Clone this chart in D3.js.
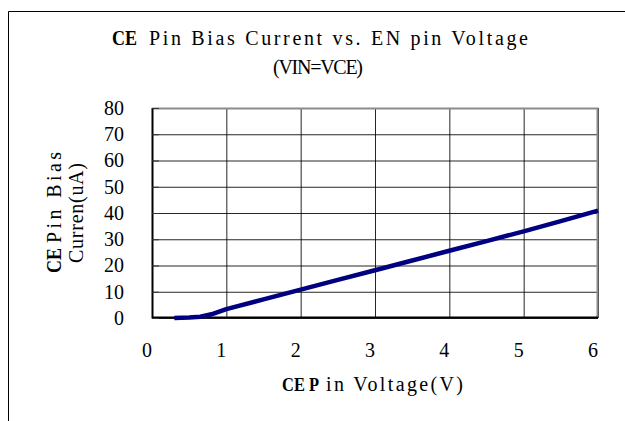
<!DOCTYPE html>
<html>
<head>
<meta charset="utf-8">
<script src="https://cdn.jsdelivr.net/npm/d3@7"></script>
<style>
  body { margin: 0; background: #fff; }
  svg { display: block; }
</style>
</head>
<body>
<div id="chart"></div>
<script>
// data
const voltage = [0.3, 0.5, 0.65, 0.8, 1.0, 1.5, 2.0, 2.5, 3.0, 3.5, 4.0, 4.5, 5.0, 5.5, 6.0];
const current = [0, 0.2, 0.5, 1.4, 3.4, 7.1, 10.8, 14.5, 18.2, 21.9, 25.6, 29.3, 33.0, 36.9, 40.9];
const xTicks = [0, 1, 2, 3, 4, 5, 6];
const yTicks = [0, 10, 20, 30, 40, 50, 60, 70, 80];

const lineColor = '#000080';
const serif = '"Liberation Serif", "Times New Roman", serif';

const dimensions = {
  width: 625,
  height: 421,
  margin: { top: 108, right: 27, bottom: 103, left: 152 },
};
dimensions.boundedWidth = dimensions.width - dimensions.margin.left - dimensions.margin.right;
dimensions.boundedHeight = dimensions.height - dimensions.margin.top - dimensions.margin.bottom;

// half-width "SimSun" look: serif glyphs spread to a fixed width
const addText = (parent, str, x, y, opts = {}) => {
  const t = parent.append('text')
    .attr('x', x)
    .attr('y', y)
    .attr('font-family', serif)
    .attr('font-size', opts.size || 20)
    .attr('font-weight', opts.weight || 'normal')
    .attr('fill', '#000')
    .text(str);
  if (opts.len) t.attr('textLength', opts.len).attr('lengthAdjust', opts.adjust || 'spacing');
  return t;
}

function drawChart() {
  const svg = d3.select('#chart')
    .append('svg')
    .attr('width', dimensions.width)
    .attr('height', dimensions.height);

  // outer frame (only left + top visible in the picture)
  svg.append('path')
    .attr('d', `M8.5,${dimensions.height} V11.5 H${dimensions.width}`)
    .attr('fill', 'none')
    .attr('stroke', '#000')
    .attr('stroke-width', 1);

  const bounds = svg.append('g')
    .attr('transform', `translate(${dimensions.margin.left},${dimensions.margin.top})`);

  const xScale = d3.scaleLinear()
    .domain([0, 6])
    .range([0, dimensions.boundedWidth]);
  const yScale = d3.scaleLinear()
    .domain([0, 80])
    .range([dimensions.boundedHeight, 0]);

  // grid
  const yGrid = bounds.append('g')
    .call(d3.axisLeft(yScale).tickValues(yTicks).tickSize(-dimensions.boundedWidth).tickFormat(''));
  yGrid.select('.domain').remove();
  yGrid.selectAll('line').attr('stroke', '#000').attr('stroke-opacity', 0.85);

  const xGrid = bounds.append('g')
    .attr('transform', `translate(0,${dimensions.boundedHeight})`)
    .call(d3.axisBottom(xScale).tickValues(xTicks).tickSize(-dimensions.boundedHeight).tickFormat(''));
  xGrid.select('.domain').remove();
  xGrid.selectAll('line').attr('stroke', '#000').attr('stroke-opacity', 0.85);

  // plot frame: top/right grey, left/bottom black
  bounds.append('path')
    .attr('d', `M0,0.5 H${dimensions.boundedWidth - 0.5} V${dimensions.boundedHeight}`)
    .attr('fill', 'none')
    .attr('stroke', '#8c8c8c')
    .attr('stroke-width', 2);
  bounds.append('path')
    .attr('d', `M0.5,0 V${dimensions.boundedHeight - 0.5} H${dimensions.boundedWidth}`)
    .attr('fill', 'none')
    .attr('stroke', '#000')
    .attr('stroke-width', 2);

  // small inside ticks on the value axis
  const yInner = bounds.append('g')
    .call(d3.axisRight(yScale).tickValues(yTicks).tickSize(7).tickFormat(''));
  yInner.select('.domain').remove();
  yInner.selectAll('line').attr('stroke', '#333');

  // tick labels
  const yLabels = bounds.append('g')
    .call(d3.axisLeft(yScale).tickValues(yTicks).tickSize(0).tickPadding(28));
  yLabels.select('.domain').remove();
  yLabels.selectAll('text')
    .attr('font-family', serif)
    .attr('font-size', 20)
    .attr('fill', '#000');

  const xLabels = bounds.append('g')
    .attr('transform', `translate(-5.5,${dimensions.boundedHeight})`)
    .call(d3.axisBottom(xScale).tickValues(xTicks).tickSize(0).tickPadding(25).tickFormat(d3.format('d')));
  xLabels.select('.domain').remove();
  xLabels.selectAll('text')
    .attr('font-family', serif)
    .attr('font-size', 20)
    .attr('fill', '#000');

  // the curve
  const line = d3.line()
    .x((d, i) => xScale(voltage[i]))
    .y(d => yScale(d));
  bounds.append('path')
    .datum(current)
    .attr('d', line)
    .attr('fill', 'none')
    .attr('stroke', lineColor)
    .attr('stroke-width', 4.5)
    .attr('stroke-linejoin', 'round');

  // title
  addText(svg, 'CE', 112, 45, { weight: 'bold', len: 25, adjust: 'spacingAndGlyphs' });
  addText(svg, 'Pin Bias Current vs. EN pin Voltage', 149, 45, { len: 379 });
  addText(svg, '(VIN=VCE)', 273, 74, { len: 90 });

  // x axis title
  addText(svg, 'CE P', 282, 391, { size: 19, weight: 'bold', len: 37, adjust: 'spacingAndGlyphs' });
  addText(svg, 'in Voltage(V)', 326, 391, { len: 137 });

  // y axis title (two rotated lines)
  const yTitle = svg.append('g')
    .attr('transform', 'translate(0,212) rotate(-90)');
  addText(yTitle, 'CE', -61, 61, { weight: 'bold', len: 25, adjust: 'spacingAndGlyphs' });
  addText(yTitle, 'Pin Bias', -31, 61, { len: 91 });
  addText(yTitle, 'Curren(uA)', -51, 83, { len: 100 });
}

drawChart();
</script>
</body>
</html>
